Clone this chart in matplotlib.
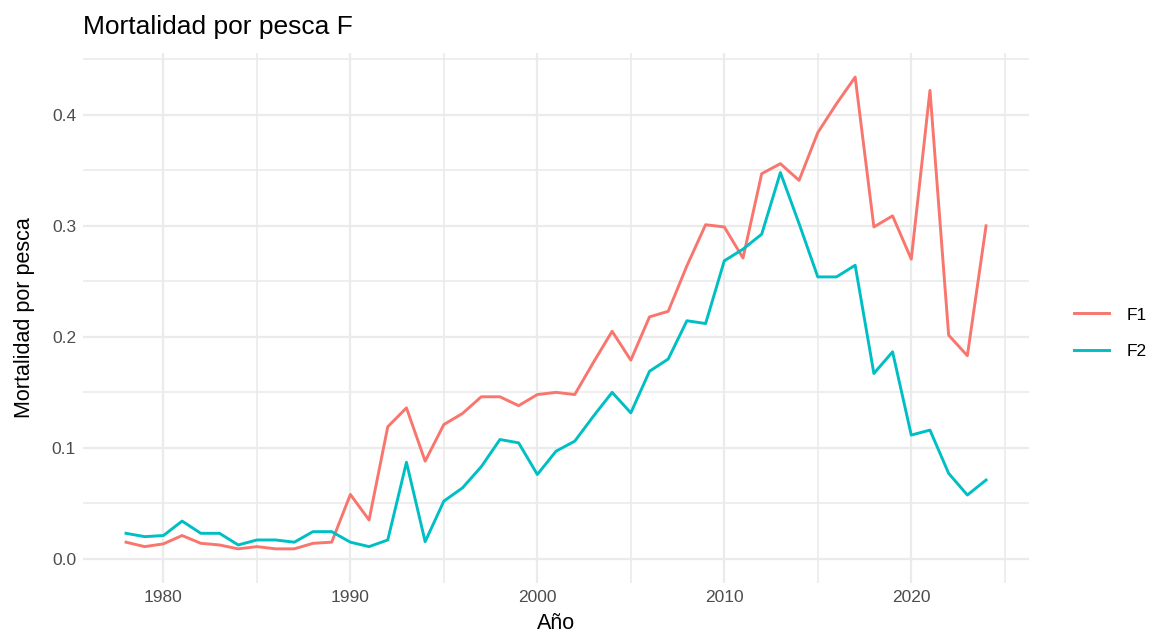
import matplotlib
matplotlib.use("Agg")
import matplotlib.pyplot as plt
from matplotlib.ticker import MultipleLocator

plt.rcParams["font.family"] = ["Liberation Sans", "DejaVu Sans"]

years = list(range(1978, 2025))

f1 = [0.015, 0.011, 0.0135, 0.021, 0.014, 0.0125, 0.009, 0.011, 0.009, 0.009,
      0.014, 0.015, 0.058, 0.035, 0.119, 0.136, 0.088, 0.121, 0.131, 0.146,
      0.146, 0.138, 0.148, 0.150, 0.148, 0.177, 0.205, 0.179, 0.218, 0.223,
      0.264, 0.301, 0.299, 0.271, 0.347, 0.356, 0.341, 0.384, 0.410, 0.434,
      0.299, 0.309, 0.270, 0.422, 0.2015, 0.183, 0.300]

f2 = [0.023, 0.020, 0.021, 0.034, 0.023, 0.023, 0.0125, 0.017, 0.017, 0.015,
      0.0245, 0.0245, 0.015, 0.011, 0.017, 0.087, 0.0155, 0.052, 0.064, 0.083,
      0.1075, 0.1045, 0.076, 0.097, 0.106, 0.1285, 0.150, 0.1315, 0.169, 0.180,
      0.2145, 0.212, 0.2685, 0.279, 0.2925, 0.348, 0.302, 0.254, 0.254, 0.2645,
      0.167, 0.1865, 0.1115, 0.116, 0.077, 0.0575, 0.071]

series = ["F1", "F2"]
colors = ["#F8766D", "#00BFC4"]

fig = plt.figure(figsize=(11.53, 6.35), dpi=100)
ax = fig.add_axes([0.072, 0.082, 0.8205, 0.8345])

for name, vals, c in zip(series, [f1, f2], colors):
    ax.plot(years, vals, color=c, lw=2.1, label=name)

span_x = years[-1] - years[0]
ax.set_xlim(years[0] - 0.05 * span_x, years[-1] + 0.05 * span_x)
ymax = max(max(f1), max(f2))
ax.set_ylim(-0.05 * ymax, ymax * 1.05)

ax.xaxis.set_major_locator(MultipleLocator(10))
ax.xaxis.set_minor_locator(MultipleLocator(5))
ax.yaxis.set_major_locator(MultipleLocator(0.1))
ax.yaxis.set_minor_locator(MultipleLocator(0.05))
ax.set_yticks([0.0, 0.1, 0.2, 0.3, 0.4])
ax.set_yticklabels(["0.0", "0.1", "0.2", "0.3", "0.4"])
ax.set_xticks([1980, 1990, 2000, 2010, 2020])

ax.grid(which="major", color="#EBEBEB", lw=1.6)
ax.grid(which="minor", color="#EBEBEB", lw=1.2)
ax.set_axisbelow(True)
for s in ax.spines.values():
    s.set_visible(False)
ax.tick_params(which="both", length=0, labelsize=12.5, labelcolor="#4D4D4D", pad=5)

ax.set_xlabel("Año", fontsize=15.5, labelpad=6)
ax.set_ylabel("Mortalidad por pesca", fontsize=15.5, labelpad=12)
ax.set_title("Mortalidad por pesca F", loc="left", fontsize=19, pad=14)

fig.legend(loc="center left", bbox_to_anchor=(0.918, 0.475), frameon=False,
           fontsize=12.5, handlelength=2.0, labelspacing=1.25, handletextpad=1.0)

fig.savefig("out.png", dpi=100)
